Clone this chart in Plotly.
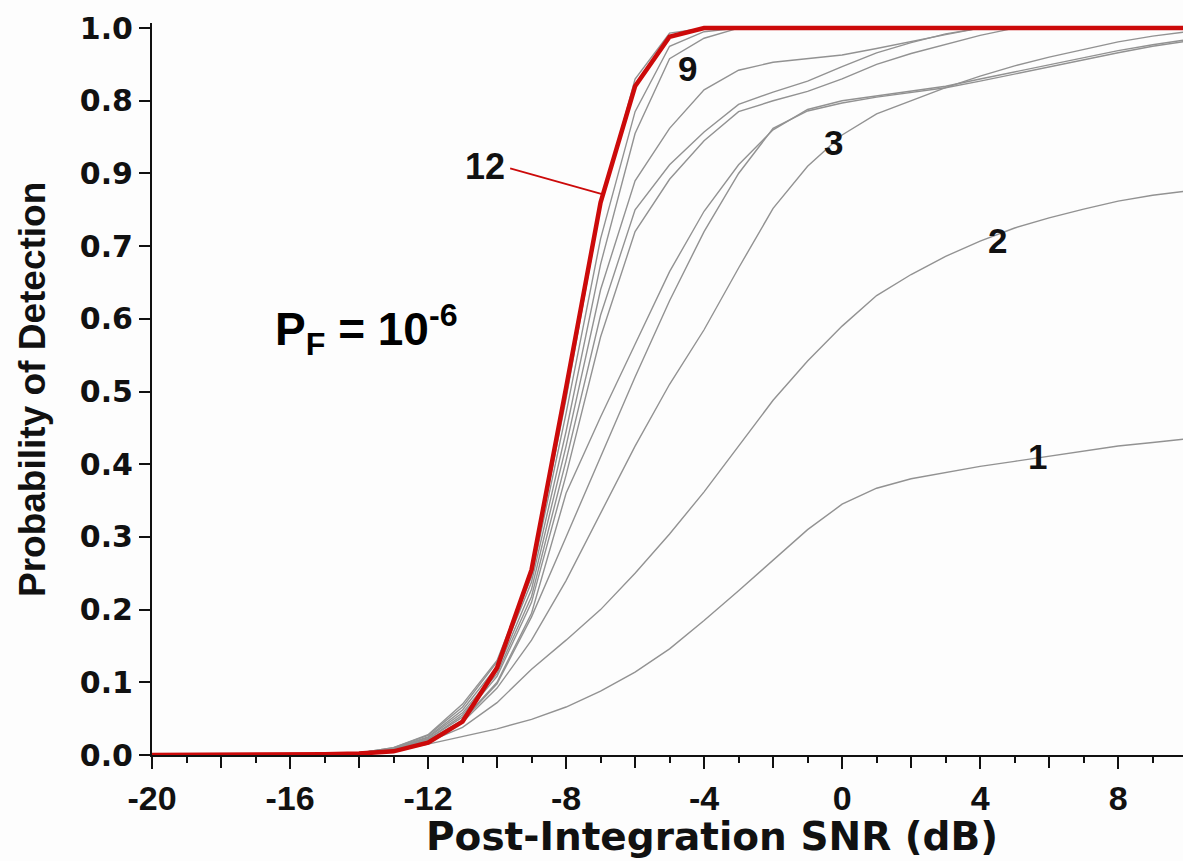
import numpy as np
import plotly.graph_objects as go

# Post-integration SNR grid (dB)
snr_db = list(range(-20, 11))

# Probability of detection, one list per number of integrated pulses
pd_1 = [0, 0, 0, 0, 0, 0.001, 0.002, 0.006, 0.015, 0.025, 0.036, 0.049, 0.066, 0.088, 0.114,
        0.146, 0.185, 0.226, 0.268, 0.31, 0.345, 0.367, 0.38, 0.389, 0.397, 0.404, 0.411,
        0.418, 0.425, 0.43, 0.435]
pd_2 = [0, 0, 0, 0, 0, 0.001, 0.002, 0.007, 0.018, 0.038, 0.072, 0.118, 0.158, 0.2, 0.25,
        0.304, 0.362, 0.425, 0.488, 0.542, 0.59, 0.632, 0.661, 0.686, 0.707, 0.725, 0.739,
        0.751, 0.762, 0.77, 0.776]
pd_3 = [0, 0, 0, 0, 0, 0.001, 0.003, 0.008, 0.02, 0.045, 0.092, 0.158, 0.24, 0.332, 0.425,
        0.51, 0.585, 0.67, 0.752, 0.81, 0.853, 0.882, 0.9, 0.918, 0.934, 0.948, 0.96,
        0.971, 0.981, 0.989, 0.995]
pd_4 = [0, 0, 0, 0, 0, 0.001, 0.003, 0.008, 0.02, 0.048, 0.1, 0.195, 0.36, 0.465, 0.565,
        0.665, 0.748, 0.812, 0.86, 0.888, 0.9, 0.907, 0.913, 0.92, 0.93, 0.94, 0.95,
        0.96, 0.969, 0.977, 0.984]
pd_5 = [0, 0, 0, 0, 0, 0.001, 0.003, 0.008, 0.02, 0.047, 0.098, 0.19, 0.3, 0.41, 0.52,
        0.625, 0.72, 0.8, 0.862, 0.886, 0.897, 0.905, 0.912, 0.918, 0.927, 0.937, 0.947,
        0.957, 0.966, 0.975, 0.982]
pd_6 = [0, 0, 0, 0, 0, 0.001, 0.003, 0.008, 0.022, 0.052, 0.108, 0.21, 0.385, 0.575, 0.72,
        0.792, 0.845, 0.885, 0.9, 0.913, 0.93, 0.95, 0.965, 0.978, 0.99, 1.0, 1.0,
        1.0, 1.0, 1.0, 1.0]
pd_7 = [0, 0, 0, 0, 0, 0.001, 0.003, 0.008, 0.022, 0.055, 0.112, 0.218, 0.405, 0.605, 0.75,
        0.812, 0.857, 0.895, 0.912, 0.927, 0.947, 0.966, 0.98, 0.992, 1.0, 1.0, 1.0,
        1.0, 1.0, 1.0, 1.0]
pd_8 = [0, 0, 0, 0, 0, 0.001, 0.003, 0.009, 0.024, 0.058, 0.116, 0.228, 0.425, 0.64, 0.79,
        0.862, 0.915, 0.942, 0.953, 0.958, 0.963, 0.972, 0.982, 0.991, 1.0, 1.0, 1.0,
        1.0, 1.0, 1.0, 1.0]
pd_9 = [0, 0, 0, 0, 0, 0.001, 0.003, 0.009, 0.025, 0.062, 0.122, 0.238, 0.445, 0.675, 0.855,
        0.958, 0.986, 1.0, 1.0, 1.0, 1.0, 1.0, 1.0, 1.0, 1.0, 1.0, 1.0,
        1.0, 1.0, 1.0, 1.0]
pd_10 = [0, 0, 0, 0, 0, 0.001, 0.003, 0.01, 0.027, 0.066, 0.128, 0.245, 0.47, 0.71, 0.885,
         0.975, 0.995, 1.0, 1.0, 1.0, 1.0, 1.0, 1.0, 1.0, 1.0, 1.0, 1.0,
         1.0, 1.0, 1.0, 1.0]
pd_11 = [0, 0, 0, 0, 0, 0.001, 0.003, 0.01, 0.028, 0.07, 0.13, 0.25, 0.49, 0.755, 0.93,
         0.993, 1.0, 1.0, 1.0, 1.0, 1.0, 1.0, 1.0, 1.0, 1.0, 1.0, 1.0,
         1.0, 1.0, 1.0, 1.0]
pd_12 = [0, 0, 0, 0, 0, 0.001, 0.002, 0.005, 0.017, 0.046, 0.12, 0.255, 0.505, 0.76, 0.92,
         0.988, 1.0, 1.0, 1.0, 1.0, 1.0, 1.0, 1.0, 1.0, 1.0, 1.0, 1.0,
         1.0, 1.0, 1.0, 1.0]

gray_curves = [pd_1, pd_2, pd_3, pd_4, pd_5, pd_6, pd_7, pd_8, pd_9, pd_10, pd_11]

# Axis tick labels
y_tick_vals = [0.0, 0.1, 0.2, 0.3, 0.4, 0.5, 0.6, 0.7, 0.8, 0.9, 1.0]
y_tick_text = ["0.0", "0.1", "0.2", "0.3", "0.4", "0.5", "0.6", "0.7", "0.9", "0.8", "1.0"]
x_tick_vals = [-20, -16, -12, -8, -4, 0, 4, 8]
x_tick_text = ["-20", "-16", "-12", "-8", "-4", "0", "4", "8"]

# Curve labels: (text, snr, pd)
curve_labels = [("9", -4.49, 0.945), ("3", -0.26, 0.842), ("2", 4.49, 0.708), ("1", 5.65, 0.41)]
label_12_pos = (-10.35, 0.809)
leader_12 = (-9.62, 0.807, -6.93)

FONT = "Liberation Sans, Arial, sans-serif"
WIDE_FONT = "DejaVu Sans, Liberation Sans, sans-serif"
X_RANGE = [-20, 9.88]
Y_RANGE = [0, 1.007]

fig = go.Figure()

for ys in gray_curves:
    fig.add_trace(go.Scatter(x=snr_db, y=ys, mode="lines",
                             line=dict(color="#929292", width=1.4), hoverinfo="skip",
                             showlegend=False))

fig.add_trace(go.Scatter(x=snr_db, y=pd_12, mode="lines",
                         line=dict(color="#cc0a0a", width=4.5), showlegend=False))

# Leader line from the "12" label to the red curve (drawn on the secondary x axis,
# which shares the range and carries the every-2-dB tick marks)
x0, y0, x1 = leader_12
y1 = float(np.interp(x1, snr_db, pd_12))
fig.add_trace(go.Scatter(x=[x0, x1], y=[y0, y1], mode="lines", xaxis="x2",
                         line=dict(color="#cc0a0a", width=1.8), showlegend=False))

fig.add_annotation(x=label_12_pos[0], y=label_12_pos[1], text="12", showarrow=False,
                   font=dict(family=FONT, size=36, color="#111", weight=700))
for txt, lx, ly in curve_labels:
    fig.add_annotation(x=lx, y=ly, text=txt, showarrow=False,
                       font=dict(family=FONT, size=35, color="#111", weight=700))

fig.add_annotation(x=-16.5, y=0.585, xanchor="left", yanchor="middle",
                   text="P<sub>F</sub> = 10<sup>-6</sup>", showarrow=False,
                   font=dict(family=FONT, size=46, color="#000", weight=700))

# Axis titles
fig.add_annotation(xref="paper", yref="paper", x=0.543, y=-0.112, xanchor="center",
                   yanchor="middle", text="Post-Integration SNR (dB)", showarrow=False,
                   font=dict(family=WIDE_FONT, size=39, color="#111", weight=700))
fig.add_annotation(xref="paper", yref="paper", x=-0.1164, y=0.5, xanchor="center",
                   yanchor="middle", textangle=-90, text="Probability of Detection",
                   showarrow=False,
                   font=dict(family=FONT, size=37, color="#111", weight=700))

fig.update_layout(
    xaxis=dict(range=X_RANGE, tickmode="array", tickvals=x_tick_vals, ticktext=x_tick_text,
               ticks="outside", ticklen=12, tickwidth=2, tickcolor="#111",
               minor=dict(dtick=1, tick0=-20, ticks="outside", ticklen=6, tickwidth=2,
                          tickcolor="#111"),
               showline=True, linecolor="#111", linewidth=2, showgrid=False, zeroline=False,
               tickfont=dict(family=FONT, size=34, color="#111", weight=700)),
    xaxis2=dict(range=X_RANGE, overlaying="x", side="bottom", anchor="y",
                tickmode="linear", tick0=-20, dtick=2, ticks="outside", ticklen=12,
                tickwidth=2, tickcolor="#111", showticklabels=False, showline=False,
                showgrid=False, zeroline=False),
    yaxis=dict(range=Y_RANGE, tickmode="array", tickvals=y_tick_vals, ticktext=y_tick_text,
               ticks="outside", ticklen=11, tickwidth=2, tickcolor="#111",
               showline=True, linecolor="#111", linewidth=2, showgrid=False, zeroline=False,
               tickfont=dict(family=WIDE_FONT, size=30, color="#111", weight=700)),
    width=1183, height=861, margin=dict(l=152, r=0, t=23, b=106),
    paper_bgcolor="#fdfdfd", plot_bgcolor="#fdfdfd", showlegend=False,
)

fig.write_html("out.html")
